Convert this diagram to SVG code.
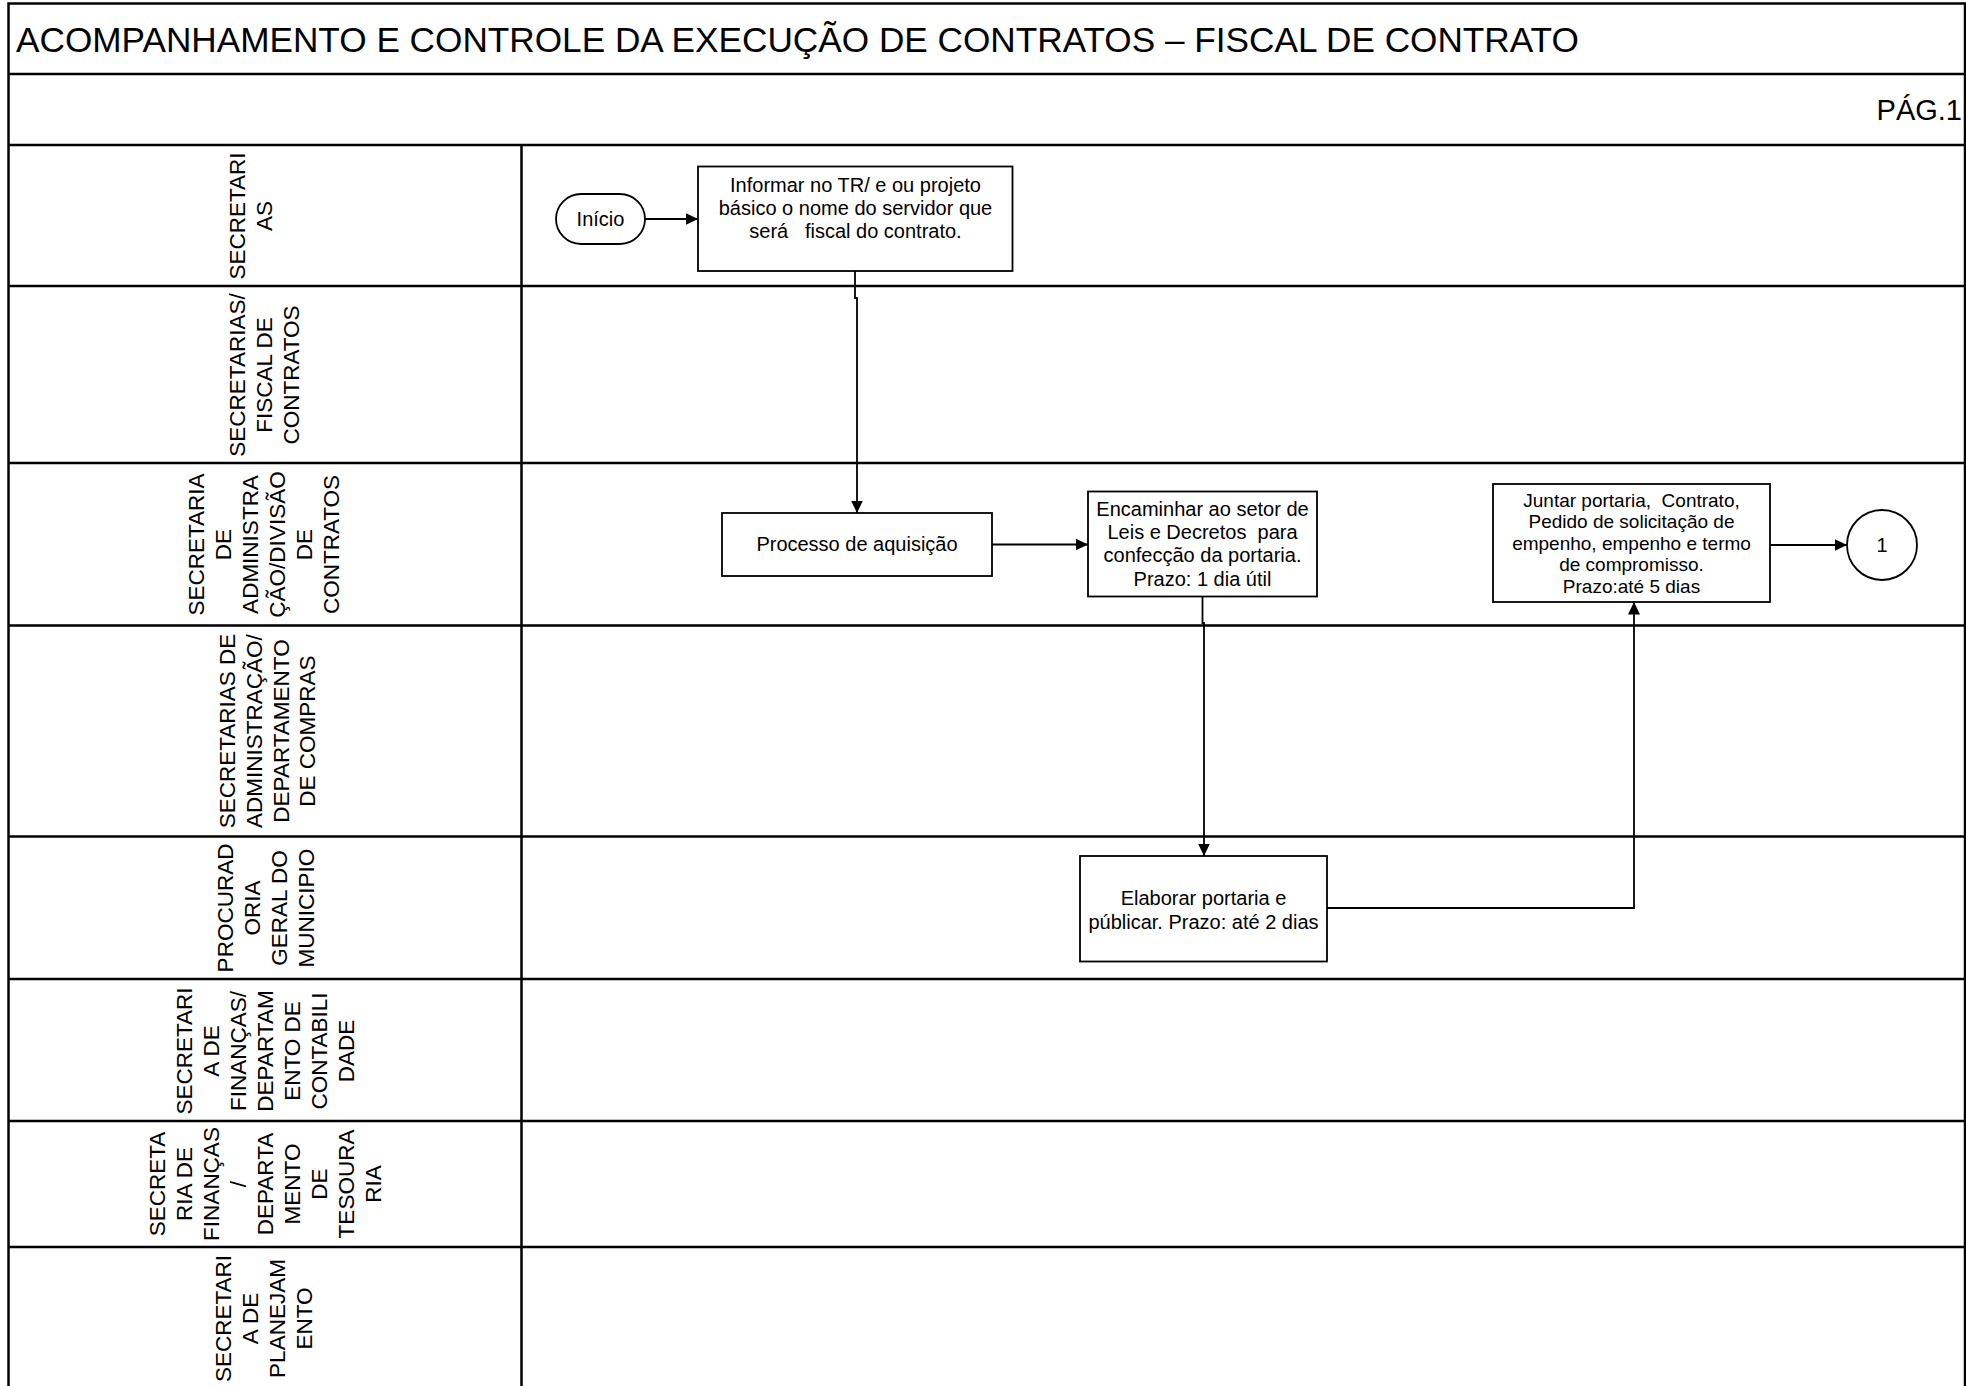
<svg xmlns="http://www.w3.org/2000/svg" width="1966" height="1386" viewBox="0 0 1966 1386">
<style>
  text { font-family: "Liberation Sans", Arial, sans-serif; fill: #000; white-space: pre; }
  .lane { stroke: #000; stroke-width: 2.5; fill: none; }
  .box { fill: #fff; stroke: #000; stroke-width: 1.8; }
  .conn { fill: none; stroke: #000; stroke-width: 1.8; }
  .t20 { font-size: 20px; text-anchor: middle; }
  .t19 { font-size: 19px; text-anchor: middle; }
  .lbl { font-size: 22.5px; text-anchor: middle; }
</style>
<defs>
  <marker id="arr" markerUnits="userSpaceOnUse" markerWidth="13" markerHeight="12" refX="12.5" refY="6" orient="auto">
    <path d="M0,0 L12.5,6 L0,12 z" fill="#000"/>
  </marker>
</defs>
<rect x="0" y="0" width="1966" height="1386" fill="#fff"/>

<g id="frame">
  <path class="lane" d="M8.5,1390 V3.5 H1965 V1390"/>
  <path class="lane" d="M8.5,74 H1965 M8.5,145 H1965 M8.5,286 H1965 M8.5,463 H1965 M8.5,625.5 H1965 M8.5,836.5 H1965 M8.5,979 H1965 M8.5,1121 H1965 M8.5,1247 H1965"/>
  <path class="lane" d="M521.5,145 V1390"/>
  <text id="title" x="16" y="52" font-size="35.2">ACOMPANHAMENTO E CONTROLE DA EXECUÇÃO DE CONTRATOS – FISCAL DE CONTRATO</text>
  <text id="page" x="1962" y="120" font-size="29" text-anchor="end">PÁG.1</text>
</g>

<g id="lane-labels">
  <text class="lbl" transform="translate(0,216) rotate(-90)"><tspan x="0" y="245">SECRETARI</tspan><tspan x="0" y="272">AS</tspan></text>
  <text class="lbl" transform="translate(0,375) rotate(-90)"><tspan x="0" y="245">SECRETARIAS/</tspan><tspan x="0" y="272">FISCAL DE</tspan><tspan x="0" y="299">CONTRATOS</tspan></text>
  <text class="lbl" transform="translate(0,544.5) rotate(-90)"><tspan x="0" y="204">SECRETARIA</tspan><tspan x="0" y="231">DE</tspan><tspan x="0" y="258">ADMINISTRA</tspan><tspan x="0" y="285">ÇÃO/DIVISÃO</tspan><tspan x="0" y="312">DE</tspan><tspan x="0" y="339">CONTRATOS</tspan></text>
  <text class="lbl" transform="translate(0,731) rotate(-90)"><tspan x="0" y="235">SECRETARIAS DE</tspan><tspan x="0" y="262">ADMINISTRAÇÃO/</tspan><tspan x="0" y="289">DEPARTAMENTO</tspan><tspan x="0" y="315">DE COMPRAS</tspan></text>
  <text class="lbl" transform="translate(0,908) rotate(-90)"><tspan x="0" y="233">PROCURAD</tspan><tspan x="0" y="260">ORIA</tspan><tspan x="0" y="287">GERAL DO</tspan><tspan x="0" y="314">MUNICIPIO</tspan></text>
  <text class="lbl" transform="translate(0,1051) rotate(-90)"><tspan x="0" y="192">SECRETARI</tspan><tspan x="0" y="219">A DE</tspan><tspan x="0" y="246">FINANÇAS/</tspan><tspan x="0" y="273">DEPARTAM</tspan><tspan x="0" y="300">ENTO DE</tspan><tspan x="0" y="327">CONTABILI</tspan><tspan x="0" y="354">DADE</tspan></text>
  <text class="lbl" transform="translate(0,1184) rotate(-90)"><tspan x="0" y="165">SECRETA</tspan><tspan x="0" y="192">RIA DE</tspan><tspan x="0" y="219">FINANÇAS</tspan><tspan x="0" y="246">/</tspan><tspan x="0" y="273">DEPARTA</tspan><tspan x="0" y="300">MENTO</tspan><tspan x="0" y="327">DE</tspan><tspan x="0" y="354">TESOURA</tspan><tspan x="0" y="381">RIA</tspan></text>
  <text class="lbl" transform="translate(0,1318.5) rotate(-90)"><tspan x="0" y="231">SECRETARI</tspan><tspan x="0" y="258">A DE</tspan><tspan x="0" y="285">PLANEJAM</tspan><tspan x="0" y="312">ENTO</tspan></text>
</g>

<g id="connectors">
  <path class="conn" d="M645,219 H698" marker-end="url(#arr)"/>
  <path class="conn" d="M855,271 V298 H857 V513" marker-end="url(#arr)"/>
  <path class="conn" d="M992,544.5 H1088" marker-end="url(#arr)"/>
  <path class="conn" d="M1202.5,597 V623 H1204 V856" marker-end="url(#arr)"/>
  <path class="conn" d="M1327,908 H1634 V602" marker-end="url(#arr)"/>
  <path class="conn" d="M1770,545 H1847" marker-end="url(#arr)"/>
</g>

<g id="node-inicio">
  <rect class="box" x="556" y="194" width="89" height="50" rx="25" ry="25"/>
  <text class="t20" x="600.5" y="226">Início</text>
</g>

<g id="node-informar">
  <rect class="box" x="698" y="166.5" width="314.5" height="104.5"/>
  <text class="t20" x="855.5" y="191.5">Informar no TR/ e ou projeto</text>
  <text class="t20" x="855.5" y="214.5">básico o nome do servidor que</text>
  <text class="t20" x="855.5" y="237.5">será   fiscal do contrato.</text>
</g>

<g id="node-processo">
  <rect class="box" x="722" y="513" width="270" height="63"/>
  <text class="t20" x="857" y="551">Processo de aquisição</text>
</g>

<g id="node-encaminhar">
  <rect class="box" x="1088" y="491.5" width="229" height="105"/>
  <text class="t20" x="1202.5" y="516">Encaminhar ao setor de</text>
  <text class="t20" x="1202.5" y="539">Leis e Decretos  para</text>
  <text class="t20" x="1202.5" y="562">confecção da portaria.</text>
  <text class="t20" x="1202.5" y="585.5">Prazo: 1 dia útil</text>
</g>

<g id="node-juntar">
  <rect class="box" x="1493" y="484" width="277" height="118"/>
  <text class="t19" x="1631.5" y="506.5">Juntar portaria,  Contrato,</text>
  <text class="t19" x="1631.5" y="528">Pedido de solicitação de</text>
  <text class="t19" x="1631.5" y="549.5">empenho, empenho e termo</text>
  <text class="t19" x="1631.5" y="571">de compromisso.</text>
  <text class="t19" x="1631.5" y="593">Prazo:até 5 dias</text>
</g>

<g id="node-conector-1">
  <circle class="box" cx="1882" cy="545" r="35"/>
  <text class="t20" x="1882" y="552">1</text>
</g>

<g id="node-elaborar">
  <rect class="box" x="1080" y="856" width="247" height="105.5"/>
  <text class="t20" x="1203.5" y="905">Elaborar portaria e</text>
  <text class="t20" x="1203.5" y="928.5">públicar. Prazo: até 2 dias</text>
</g>
</svg>
